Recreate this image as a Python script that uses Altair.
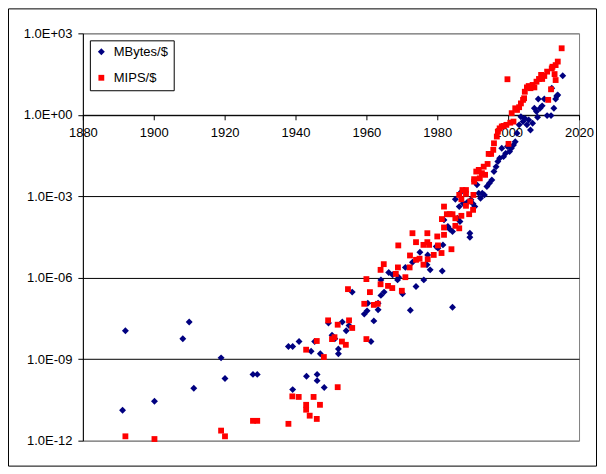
import altair as alt
import pandas as pd

# MBytes/$ : year and log10(value)
mb_years = [1891.2, 1892, 1900.2, 1908.2, 1910, 1911.3, 1919, 1920.1, 1928, 1929.2,
            1938, 1939.2, 1939.2, 1941, 1943.1, 1944.4, 1945.4, 1946.1, 1946.1, 1947,
            1948.1, 1949.3, 1950.3, 1951.1, 1952.1, 1952.1, 1953.2, 1954.3, 1955.1, 1956,
            1959.4, 1960.2, 1960.4, 1961.3, 1962.1, 1963.3, 1963.3, 1964.1, 1964.1, 1965,
            1966.3, 1967.4, 1968.8, 1969.1, 1970.2, 1971, 1972.4, 1973, 1974, 1975.1,
            1976.2, 1977.1, 1977.3, 1978, 1979.7, 1980.2, 1981.4, 1981.6, 1981.9, 1983,
            1983.5, 1984.3, 1984.3, 1985.1, 1985.7, 1986.2, 1986.4, 1986.8, 1987.3, 1988.4,
            1989.2, 1989.2, 1989.5, 1990.1, 1990.6, 1991.2, 1991.7, 1992.2, 1992.7, 1993.3,
            1994, 1994.7, 1995.4, 1996, 1996.6, 1997.1, 1997.6, 1998.2, 1998.7, 1999.3,
            1999.8, 2000.4, 2000.9, 2001.5, 2002, 2002.5, 2003.1, 2003.6, 2004.2, 2004.7,
            2005.3, 2005.8, 2006.3, 2006.9, 2007.4, 2008, 2008.3, 2008.5, 2009, 2009.6,
            2010.2, 2011, 2012.1, 2012.3, 2012.9, 2013.4, 2013.7, 2014, 2015.4]
mb_log10 = [-10.88, -7.95, -10.55, -8.25, -7.63, -10.07, -8.95, -9.71, -9.56, -9.56,
            -8.53, -8.53, -10.12, -8.35, -9.63, -8.71, -8.35, -9.56, -9.79, -8.80,
            -10.04, -7.67, -8.12, -8.25, -8.62, -8.80, -7.63, -7.95, -7.76, -6.53,
            -7.34, -7.22, -6.94, -8.35, -7.59, -7.18, -6.94, -6.65, -6.08, -6.53,
            -5.81, -5.89, -6.08, -5.98, -6.59, -5.62, -7.20, -5.43, -6.32, -5.06,
            -6.08, -5.52, -5.16, -5.71, -4.85, -4.91, -5.75, -4.79, -3.87, -4.11,
            -4.21, -4.30, -7.09, -3.11, -3.81, -3.38, -3.93, -2.83, -3.26, -3.23,
            -4.36, -4.51, -3.13, -3.28, -3.38, -2.58, -2.89, -3.07, -2.89, -2.95,
            -2.64, -2.52, -2.40, -2.09, -1.91, -1.72, -1.60, -1.23, -1.54, -1.42,
            -1.17, -1.35, -1.23, -1.11, -0.99, -0.68, -0.37, -0.07, -0.25, -0.13,
            -0.37, -0.19, -0.56, -0.31, 0.24, 0.12, -0.09, 0.58, 0.24, 0.33,
            0.58, -0.03, -0.03, 0.98, 0.24, 0.58, 0.69, 0.73, 1.44]

# MIPS/$ : year and log10(value)
mips_years = [1892, 1900.2, 1919, 1920.1, 1928, 1929.2, 1938, 1939.1, 1940.9, 1943,
              1943, 1943, 1944, 1945.1, 1946, 1946, 1946.9, 1948, 1949.2, 1950.3,
              1951, 1951.9, 1951.9, 1953.1, 1954.2, 1954.8, 1955.1, 1956, 1959.4, 1960,
              1960, 1961, 1962.1, 1963.2, 1964, 1964, 1964.9, 1966.1, 1967.3, 1968.3,
              1968.9, 1969, 1970, 1971, 1972.2, 1972.3, 1973, 1974, 1974, 1975,
              1976.1, 1976.1, 1977.2, 1977.2, 1977.3, 1977.7, 1979, 1980, 1980.2, 1981.2,
              1981.3, 1981.9, 1981.9, 1981.9, 1982.7, 1983.5, 1984, 1984.3, 1985.1, 1985.1,
              1986.2, 1986.2, 1986.8, 1986.8, 1987.1, 1988.1, 1988.1, 1988.1, 1989, 1989.3,
              1990.1, 1990.2, 1990.4, 1990.4, 1991, 1991.7, 1992, 1992.6, 1993.1, 1993.5,
              1994.2, 1994.5, 1995.2, 1995.8, 1996, 1996.8, 1997.1, 1997.6, 1998.2, 1998.7,
              1999.5, 1999.8, 2000.1, 2000.6, 2001, 2001.5, 2002, 2002.5, 2003.1, 2003.6,
              2004.2, 2004.5, 2004.7, 2005.3, 2005.8, 2006.3, 2006.9, 2007.4, 2008, 2008.7,
              2009.3, 2009.6, 2010.2, 2011, 2011.3, 2012.1, 2012.3, 2012.5, 2013.1, 2013.4,
              2013.4, 2014, 2015.1]
mips_log10 = [-11.84, -11.94, -11.63, -11.84, -11.27, -11.27, -11.38, -10.37, -10.39, -8.65,
              -10.68, -10.86, -11.08, -10.39, -8.33, -11.20, -10.68, -8.92, -7.57, -8.26,
              -8.19, -7.73, -10.03, -8.35, -8.47, -6.42, -7.57, -7.85, -6.96, -6.05,
              -8.26, -6.53, -7.00, -6.96, -6.24, -5.71, -5.50, -6.30, -6.38, -5.86,
              -5.62, -4.81, -6.48, -5.98, -5.62, -5.18, -4.36, -4.69, -5.34, -5.30,
              -5.52, -4.79, -4.36, -4.69, -5.32, -4.79, -5.16, -4.48, -4.81, -5.09,
              -3.84, -3.38, -4.15, -4.42, -3.66, -3.66, -4.95, -3.66, -3.81, -4.09,
              -2.95, -4.18, -3.11, -3.72, -2.77, -2.77, -2.91, -3.35, -3.66, -3.19,
              -3.50, -2.95, -2.37, -2.46, -2.09, -2.03, -2.34, -2.15, -1.91, -2.21,
              -1.81, -1.44, -1.44, -1.29, -1.05, -0.80, -0.62, -0.50, -0.43, -0.41,
              -0.37, 1.31, -1.07, -0.29, 0.06, -0.25, 0.24, 0.18, 0.28, 0.42,
              0.55, 0.61, 0.85, 1.01, 1.06, 0.98, 1.10, 1.01, 1.22, 1.32,
              1.47, 1.32, 1.43, 1.59, 0.55, 0.94, 1.71, 1.77, 1.50, 1.28,
              1.83, 1.96, 2.45]

series_names = ["MBytes/$", "MIPS/$"]
x_ticks = [1880, 1900, 1920, 1940, 1960, 1980, 2000, 2020]
y_ticks = [1e-12, 1e-9, 1e-6, 1e-3, 1.0, 1e3]

rows = []
for yr, lv in zip(mb_years, mb_log10):
    rows.append({"year": yr, "value": 10 ** lv, "series": series_names[0]})
for yr, lv in zip(mips_years, mips_log10):
    rows.append({"year": yr, "value": 10 ** lv, "series": series_names[1]})
df = pd.DataFrame(rows)
df["order"] = range(len(df))

FONT = "Liberation Sans"
W, H = 497, 408

points = alt.Chart(df).mark_point(filled=True, opacity=1, strokeWidth=0).encode(
    x=alt.X("year:Q",
            scale=alt.Scale(domain=[1880, 2020], nice=False, zero=False),
            axis=alt.Axis(values=x_ticks, format="d", title=None, grid=False,
                          offset=-(H * 12 / 15), domainColor="black", tickColor="black",
                          tickSize=5, labelPadding=7, labelFontSize=13, labelFont=FONT,
                          labelColor="black", labelFlush=False, labelOverlap=False)),
    y=alt.Y("value:Q",
            scale=alt.Scale(type="log", domain=[1e-12, 1e3], nice=False),
            axis=alt.Axis(values=y_ticks, title=None, grid=True,
                          gridColor={"condition": {"test": "datum.value > 100 || datum.value < 1e-11",
                                                   "value": "#808080"}, "value": "black"},
                          gridWidth=1, domainColor="black", tickColor="black",
                          tickSize=5, labelPadding=6, labelFontSize=13, labelFont=FONT,
                          labelColor="black", labelFlush=False, labelOverlap=False,
                          labelExpr="'1.0E' + (datum.value >= 1 ? '+' : '-') + pad(format(abs(round(log(datum.value)/LN10)), 'd'), 2, '0', 'left')")),
    color=alt.Color("series:N",
                    scale=alt.Scale(domain=series_names, range=["#000080", "#FF0000"]),
                    legend=alt.Legend(title=None, orient="none", legendX=7, legendY=7,
                                      strokeColor="black", fillColor="white", padding=5,
                                      rowPadding=12, labelFontSize=13, labelFont=FONT,
                                      labelColor="black", symbolSize=30, labelOffset=6,
                                      symbolStrokeWidth=0)),
    shape=alt.Shape("series:N",
                    scale=alt.Scale(domain=series_names, range=["diamond", "square"]),
                    legend=None),
    size=alt.Size("series:N",
                  scale=alt.Scale(domain=series_names, range=[48, 34]),
                  legend=None),
    order=alt.Order("order:Q"),
)

frame = alt.Chart(alt.Data(values=[{}])).mark_rect(filled=False, stroke="black", strokeWidth=1).encode(
    x=alt.value(-74.5), x2=alt.value(W + 17.5), y=alt.value(-24.5), y2=alt.value(H + 25.5)
)

chart = alt.layer(points, frame).properties(
    width=W, height=H,
    autosize=alt.AutoSizeParams(type="none"),
    padding={"left": 75, "top": 25, "right": 19, "bottom": 27},
    background="white",
).configure_view(stroke="#808080", strokeWidth=1)

chart.save("out.html", embed_options={"renderer": "svg", "actions": False})
